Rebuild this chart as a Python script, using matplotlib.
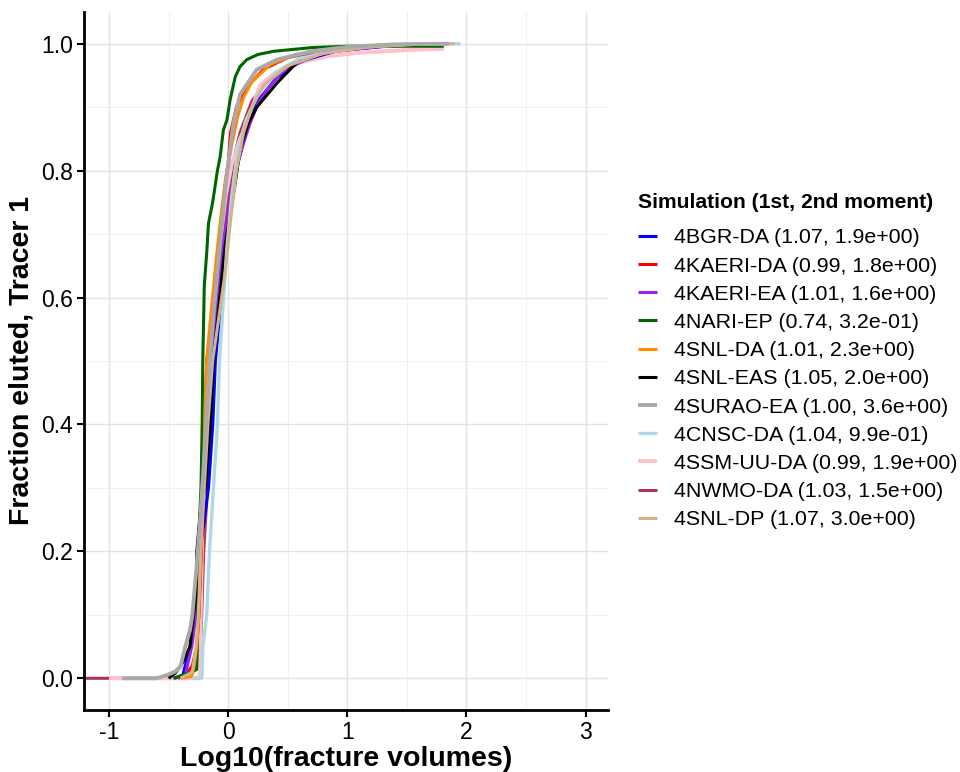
import matplotlib
matplotlib.use("Agg")
import matplotlib.pyplot as plt
from matplotlib.ticker import MultipleLocator

plt.rcParams['font.family'] = ['Liberation Sans', 'DejaVu Sans']
plt.rcParams['axes.unicode_minus'] = False

# legend labels (simulation, 1st and 2nd moment)
labels = [
    "4BGR-DA (1.07, 1.9e+00)",
    "4KAERI-DA (0.99, 1.8e+00)",
    "4KAERI-EA (1.01, 1.6e+00)",
    "4NARI-EP (0.74, 3.2e-01)",
    "4SNL-DA (1.01, 2.3e+00)",
    "4SNL-EAS (1.05, 2.0e+00)",
    "4SURAO-EA (1.00, 3.6e+00)",
    "4CNSC-DA (1.04, 9.9e-01)",
    "4SSM-UU-DA (0.99, 1.9e+00)",
    "4NWMO-DA (1.03, 1.5e+00)",
    "4SNL-DP (1.07, 3.0e+00)",
]
colors = ["#0000FF", "#FF0000", "#A020F0", "#006400", "#FF8C00", "#000000",
          "#A9A9A9", "#ADD8E6", "#FFC0CB", "#B03060", "#D2B48C"]

# curves: log10(fracture volume) vs fraction eluted
bgr_x = [-0.45, -0.38, -0.32, -0.29, -0.265, -0.24, -0.2, -0.165, -0.129, -0.107, -0.067, -0.03, 0.02, 0.08, 0.15, 0.25, 0.4, 0.6, 0.9, 1.3, 1.8]
bgr_y = [0, 0.005, 0.05, 0.1, 0.15, 0.2, 0.25, 0.3, 0.4, 0.5, 0.58, 0.66, 0.74, 0.81, 0.86, 0.91, 0.945, 0.972, 0.988, 0.996, 1.0]

kaeri_da_x = [-0.38, -0.3, -0.265, -0.245, -0.225, -0.205, -0.18, -0.123, -0.095, -0.07, -0.035, 0.0, 0.02, 0.07, 0.15, 0.3, 0.5, 0.8, 1.2, 1.8]
kaeri_da_y = [0, 0.02, 0.05, 0.1, 0.2, 0.3, 0.5, 0.585, 0.62, 0.7, 0.76, 0.81, 0.86, 0.9, 0.93, 0.96, 0.978, 0.99, 0.996, 0.999]

kaeri_ea_x = [-0.42, -0.36, -0.305, -0.27, -0.25, -0.22, -0.17, -0.13, -0.1, -0.06, -0.01, 0.04, 0.09, 0.14, 0.185, 0.25, 0.325, 0.45, 0.7, 1.0, 1.5, 1.8]
kaeri_ea_y = [0, 0.005, 0.05, 0.1, 0.2, 0.3, 0.4, 0.5, 0.58, 0.66, 0.72, 0.78, 0.82, 0.85, 0.875, 0.905, 0.927, 0.955, 0.98, 0.992, 0.998, 1.0]

nari_x = [-0.46, -0.38, -0.3, -0.265, -0.258, -0.25, -0.24, -0.228, -0.218, -0.213, -0.2, -0.18, -0.165, -0.13, -0.09, -0.067, -0.04, -0.01, 0.017, 0.06, 0.1, 0.157, 0.25, 0.38, 0.71, 1.0, 1.81]
nari_y = [0, 0.005, 0.01, 0.014, 0.05, 0.15, 0.25, 0.3, 0.4, 0.5, 0.62, 0.67, 0.717, 0.75, 0.8, 0.822, 0.864, 0.88, 0.912, 0.948, 0.964, 0.975, 0.983, 0.988, 0.994, 0.996, 0.996]

snl_da_x = [-0.4, -0.305, -0.285, -0.263, -0.246, -0.23, -0.21, -0.19, -0.18, -0.14, -0.1, -0.06, -0.02, 0.03, 0.08, 0.129, 0.2, 0.353, 0.55, 0.9, 1.3, 1.8]
snl_da_y = [0, 0.003, 0.02, 0.05, 0.1, 0.2, 0.3, 0.45, 0.5, 0.58, 0.66, 0.73, 0.79, 0.84, 0.885, 0.915, 0.94, 0.967, 0.982, 0.993, 0.998, 1.0]

snl_eas_x = [-0.5, -0.445, -0.38, -0.32, -0.29, -0.27, -0.263, -0.235, -0.19, -0.151, -0.125, -0.07, -0.03, -0.01, 0.059, 0.1, 0.17, 0.24, 0.41, 0.6, 0.9, 1.3, 1.85]
snl_eas_y = [0, 0.008, 0.025, 0.05, 0.1, 0.13, 0.2, 0.26, 0.3, 0.4, 0.5, 0.6, 0.675, 0.7, 0.78, 0.833, 0.875, 0.9, 0.938, 0.975, 0.99, 0.997, 1.0]

surao_x = [-0.89, -0.6, -0.515, -0.45, -0.4, -0.36, -0.32, -0.3, -0.263, -0.235, -0.2, -0.155, -0.11, -0.06, -0.02, 0.045, 0.1, 0.24, 0.41, 0.7, 1.0, 1.4, 1.85]
surao_y = [0, 0, 0.005, 0.01, 0.018, 0.05, 0.076, 0.1, 0.18, 0.25, 0.35, 0.5, 0.6, 0.7, 0.78, 0.875, 0.92, 0.959, 0.975, 0.988, 0.995, 0.999, 1.0]

cnsc_x = [-0.3, -0.22, -0.213, -0.18, -0.157, -0.123, -0.09, -0.073, -0.045, -0.01, 0.03, 0.08, 0.15, 0.25, 0.4, 0.6, 1.0, 1.5, 1.95]
cnsc_y = [0, 0, 0.05, 0.1, 0.2, 0.3, 0.4, 0.5, 0.58, 0.68, 0.76, 0.83, 0.88, 0.92, 0.955, 0.977, 0.993, 0.999, 1.0]

ssm_x = [-1.0, -0.5, -0.24, -0.235, -0.225, -0.21, -0.19, -0.17, -0.13, -0.09, -0.06, -0.02, 0.03, 0.1, 0.17, 0.24, 0.27, 0.4, 0.55, 0.83, 1.11, 1.5, 1.81]
ssm_y = [0, 0, 0, 0.05, 0.15, 0.3, 0.45, 0.52, 0.6, 0.66, 0.7, 0.76, 0.81, 0.85, 0.88, 0.92, 0.935, 0.955, 0.968, 0.98, 0.986, 0.99, 0.992]

nwmo_x = [-1.21, -0.24, -0.232, -0.222, -0.205, -0.18, -0.15, -0.12, -0.08, -0.04, 0.0, 0.05, 0.1, 0.2, 0.35, 0.63, 0.97, 1.4, 1.8]
nwmo_y = [0, 0, 0.05, 0.1, 0.2, 0.28, 0.4, 0.5, 0.6, 0.69, 0.76, 0.82, 0.86, 0.91, 0.945, 0.98, 0.99, 0.997, 1.0]

snl_dp_x = [-0.4, -0.3, -0.27, -0.25, -0.23, -0.2, -0.17, -0.13, -0.07, -0.025, 0.02, 0.07, 0.13, 0.2, 0.3, 0.5, 0.8, 1.2, 1.6, 1.9]
snl_dp_y = [0, 0.01, 0.05, 0.1, 0.2, 0.3, 0.4, 0.5, 0.58, 0.64, 0.72, 0.8, 0.86, 0.9, 0.935, 0.965, 0.985, 0.995, 0.999, 1.0]

xs = [bgr_x, kaeri_da_x, kaeri_ea_x, nari_x, snl_da_x, snl_eas_x, surao_x, cnsc_x, ssm_x, nwmo_x, snl_dp_x]
ys = [bgr_y, kaeri_da_y, kaeri_ea_y, nari_y, snl_da_y, snl_eas_y, surao_y, cnsc_y, ssm_y, nwmo_y, snl_dp_y]
widths = [2.2, 2.2, 2.2, 2.2, 2.2, 2.2, 2.8, 2.4, 2.8, 2.2, 2.2]
zorders = [4, 4, 4, 4, 4, 4, 5, 4, 3, 2, 4]

fig = plt.figure(figsize=(9.6, 7.72), dpi=100)
ax = fig.add_axes([0.0875, 0.0803, 0.546, 0.9042])

for x, y, c, lab, w, z in zip(xs, ys, colors, labels, widths, zorders):
    ax.plot(x, y, color=c, lw=w, label=lab, zorder=z, solid_capstyle='butt')

ax.set_xlim(-1.21, 3.19)
ax.set_ylim(-0.05, 1.05)
ax.xaxis.set_major_locator(MultipleLocator(1))
ax.xaxis.set_minor_locator(MultipleLocator(0.5))
ax.yaxis.set_major_locator(MultipleLocator(0.2))
ax.yaxis.set_minor_locator(MultipleLocator(0.1))
ax.yaxis.set_major_formatter(matplotlib.ticker.FormatStrFormatter('%.1f'))
ax.grid(which='major', color='#E3E3E3', lw=1.0, zorder=0)
ax.grid(which='minor', color='#EEEEEE', lw=0.6, zorder=0)
ax.set_axisbelow(True)
for s in ['top', 'right']:
    ax.spines[s].set_visible(False)
for s in ['left', 'bottom']:
    ax.spines[s].set_linewidth(2)
ax.tick_params(which='major', length=5, width=1.5, labelsize=16.5, colors='black', pad=3)
ax.tick_params(which='minor', length=0)

ax.set_xlabel("Log10(fracture volumes)", fontsize=20.5, fontweight='bold', labelpad=1)
ax.set_ylabel("Fraction eluted, Tracer 1", fontsize=20.5, fontweight='bold', labelpad=5)

leg = ax.legend(loc='center left', bbox_to_anchor=(1.02, 0.5), frameon=False,
                fontsize=15.4, title="Simulation (1st, 2nd moment)",
                title_fontproperties={'weight': 'bold', 'size': 15.2},
                handlelength=0.9, handletextpad=0.8, labelspacing=0.43)
leg._legend_box.align = "left"
leg._legend_box.sep = 12

fig.savefig("out.png", dpi=100)
